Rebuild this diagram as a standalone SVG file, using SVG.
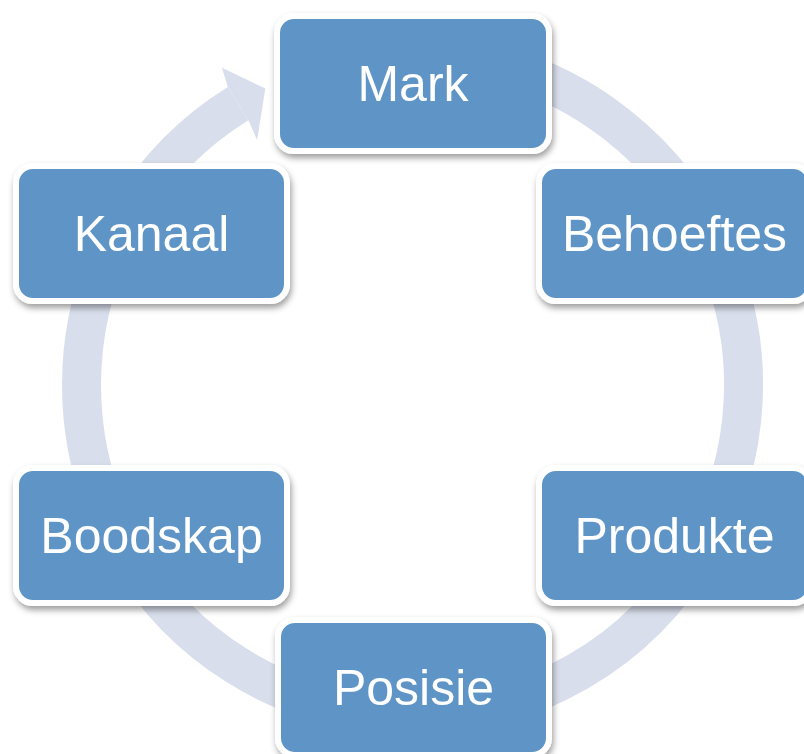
<svg xmlns="http://www.w3.org/2000/svg" width="804" height="754" viewBox="0 0 804 754">
  <defs>
    <filter id="shadow" x="-20%" y="-20%" width="140%" height="150%">
      <feDropShadow dx="1.5" dy="4" stdDeviation="3" flood-color="#000000" flood-opacity="0.38"/>
    </filter>
  </defs>
  <style>
    .box { fill: #5F95C6; stroke: #FFFFFF; stroke-width: 6; filter: url(#shadow); }
    .lbl { fill: #FFFFFF; font-family: "Liberation Sans", Arial, sans-serif; font-size: 50px; text-anchor: middle; }
    .ring { fill: none; stroke: #D9DEEC; stroke-width: 39; }
    .head { fill: #D9DEEC; }
  </style>
  <rect width="804" height="754" fill="#FFFFFF"/>
  <g id="connectors">
    <path class="ring" d="M 299.29 73.96 A 331 331 0 1 1 238.08 103.69"/>
    <polygon class="head" points="228.06,87.54 221.94,67.85 265.32,88.52 257.11,140.14 248.62,120.68"/>
  </g>
  <g id="node-mark">
    <rect class="box" x="277" y="16" width="272" height="135" rx="17"/>
    <text class="lbl" x="413" y="101">Mark</text>
  </g>
  <g id="node-behoeftes">
    <rect class="box" x="539" y="166" width="271" height="135" rx="17"/>
    <text class="lbl" x="674.5" y="251">Behoeftes</text>
  </g>
  <g id="node-produkte">
    <rect class="box" x="539" y="468" width="271" height="135" rx="17"/>
    <text class="lbl" x="674.5" y="553">Produkte</text>
  </g>
  <g id="node-posisie">
    <rect class="box" x="278" y="620" width="271" height="135" rx="17"/>
    <text class="lbl" x="413.5" y="705">Posisie</text>
  </g>
  <g id="node-boodskap">
    <rect class="box" x="16" y="468" width="271" height="135" rx="17"/>
    <text class="lbl" x="151.5" y="553">Boodskap</text>
  </g>
  <g id="node-kanaal">
    <rect class="box" x="16" y="166" width="271" height="135" rx="17"/>
    <text class="lbl" x="151.5" y="251">Kanaal</text>
  </g>
</svg>
